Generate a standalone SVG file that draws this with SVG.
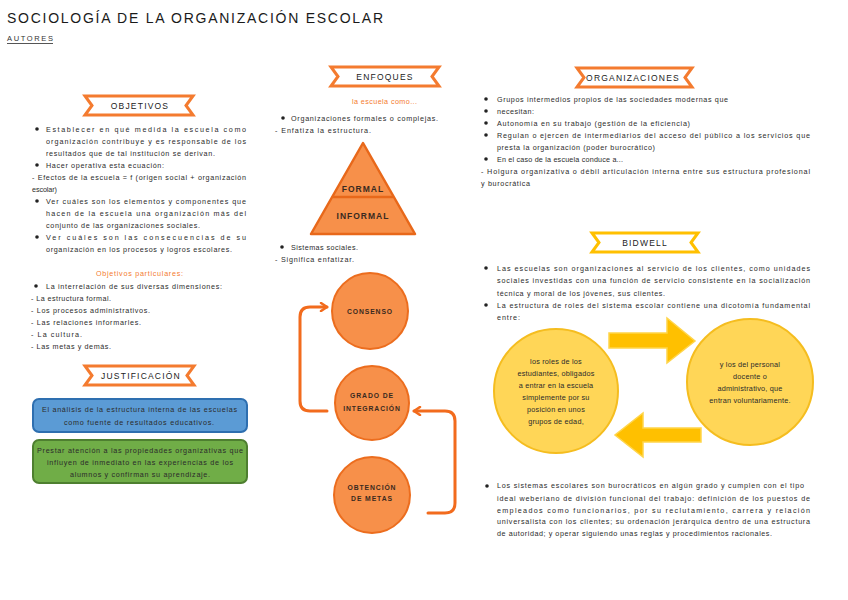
<svg xmlns="http://www.w3.org/2000/svg" width="848" height="600" viewBox="0 0 848 600">
<defs>
<style>
.t{font-family:"Liberation Sans",Arial,sans-serif;font-size:7.2px;fill:#2b2b2b}
.o{fill:#f47b2f}
.ban{fill:#fff;stroke:#f47b2f;stroke-width:3;stroke-linejoin:miter}
.bany{fill:#fff;stroke:#ffc000;stroke-width:3}
.bt{font-family:"Liberation Sans",Arial,sans-serif;font-size:8.5px;fill:#222;text-anchor:middle;letter-spacing:1.2px}
.dot{fill:#222}
.oc{fill:#f7904a;stroke:#ec6d1e;stroke-width:2}
.ct{font-family:"Liberation Sans",Arial,sans-serif;font-size:6.8px;font-weight:bold;fill:#3a2a20;text-anchor:middle;letter-spacing:0.9px}
.yc{fill:#ffd657;stroke:#f5bd1f;stroke-width:2}
.yt{font-family:"Liberation Sans",Arial,sans-serif;font-size:7.3px;fill:#2b2b2b;text-anchor:middle;letter-spacing:0.2px}
.ya{fill:#ffc000;stroke:#ffd54a;stroke-width:1.5}
.con{fill:none;stroke:#f26b1d;stroke-width:3;stroke-linecap:round}
</style>
<marker id="ah" viewBox="0 0 10 10" refX="8" refY="5" markerWidth="10" markerHeight="10" markerUnits="userSpaceOnUse" orient="auto">
<path d="M2,1 L8,5 L2,9" fill="none" stroke="#f26b1d" stroke-width="2.5" stroke-linecap="round" stroke-linejoin="round"/>
</marker>
</defs>
<rect width="848" height="600" fill="#fff"/>

<g id="title">
<text x="7" y="23" font-family="Liberation Sans, Arial, sans-serif" font-size="14" fill="#1a1a1a" textLength="376" lengthAdjust="spacing">SOCIOLOGÍA DE LA ORGANIZACIÓN ESCOLAR</text>
<text x="7" y="41" font-family="Liberation Sans, Arial, sans-serif" font-size="7.5" fill="#333" textLength="46" lengthAdjust="spacing">AUTORES</text>
<line x1="7" y1="43.5" x2="53" y2="43.5" stroke="#555" stroke-width="1"/>
</g>

<g id="objetivos">
<path class="ban" d="M85,96 L193,96 L186,105.5 L193,115 L85,115 L92,105.5 Z"/>
<text class="bt" x="140" y="108.5">OBJETIVOS</text>
<circle class="dot" cx="37" cy="129" r="1.8"/>
<text class="t" x="46" y="131.5" textLength="200" lengthAdjust="spacing">Establecer en qué medida la escuela como</text>
<text class="t" x="46" y="143.5" textLength="200" lengthAdjust="spacing">organización contribuye y es responsable de los</text>
<text class="t" x="46" y="155.5" textLength="169" lengthAdjust="spacing">resultados que de tal institución se derivan.</text>
<circle class="dot" cx="37" cy="165" r="1.8"/>
<text class="t" x="46" y="167.5" textLength="118" lengthAdjust="spacing">Hacer operativa esta ecuación:</text>
<text class="t" x="32" y="179.5" textLength="214" lengthAdjust="spacing">- Efectos de la escuela = f (origen social + organización</text>
<text class="t" x="32" y="191.5" textLength="25" lengthAdjust="spacing">escolar)</text>
<circle class="dot" cx="37" cy="201" r="1.8"/>
<text class="t" x="46" y="203.5" textLength="200" lengthAdjust="spacing">Ver cuáles son los elementos y componentes que</text>
<text class="t" x="46" y="215.5" textLength="200" lengthAdjust="spacing">hacen de la escuela una organización más del</text>
<text class="t" x="46" y="227.5" textLength="154" lengthAdjust="spacing">conjunto de las organizaciones sociales.</text>
<circle class="dot" cx="37" cy="237" r="1.8"/>
<text class="t" x="46" y="239.5" textLength="200" lengthAdjust="spacing">Ver cuáles son las consecuencias de su</text>
<text class="t" x="46" y="251.5" textLength="186" lengthAdjust="spacing">organización en los procesos y logros escolares.</text>
<text class="t o" x="96" y="275.5" textLength="87" lengthAdjust="spacing">Objetivos particulares:</text>
<circle class="dot" cx="36" cy="286" r="1.8"/>
<text class="t" x="46" y="288.5" textLength="176" lengthAdjust="spacing">La interrelación de sus diversas dimensiones:</text>
<text class="t" x="31" y="300.5" textLength="80" lengthAdjust="spacing">- La estructura formal.</text>
<text class="t" x="31" y="312.5" textLength="119" lengthAdjust="spacing">- Los procesos administrativos.</text>
<text class="t" x="31" y="324.5" textLength="110" lengthAdjust="spacing">- Las relaciones informarles.</text>
<text class="t" x="31" y="336.5" textLength="51" lengthAdjust="spacing">- La cultura.</text>
<text class="t" x="31" y="348.5" textLength="80" lengthAdjust="spacing">- Las metas y demás.</text>
</g>

<g id="justificacion">
<path class="ban" d="M85,366 L194,366 L187,375.5 L194,385 L85,385 L92,375.5 Z"/>
<text class="bt" x="141" y="378.5">JUSTIFICACIÓN</text>
</g>
<g id="just-box1">
<rect x="33" y="399" width="214" height="33" rx="6" fill="#5b9bd5" stroke="#2e6fb0" stroke-width="2"/>
<text class="t" x="42" y="411.5" textLength="195" lengthAdjust="spacing">El análisis de la estructura interna de las escuelas</text>
<text class="t" x="64" y="424.5" textLength="150" lengthAdjust="spacing">como fuente de resultados educativos.</text>
</g>
<g id="just-box2">
<rect x="33" y="440" width="214" height="43" rx="6" fill="#70ad47" stroke="#4e7f30" stroke-width="2"/>
<text class="t" x="37" y="452.5" textLength="206" lengthAdjust="spacing">Prestar atención a las propiedades organizativas que</text>
<text class="t" x="47" y="464.5" textLength="186" lengthAdjust="spacing">influyen de inmediato en las experiencias de los</text>
<text class="t" x="70" y="476.5" textLength="140" lengthAdjust="spacing">alumnos y confirman su aprendizaje.</text>
</g>

<g id="enfoques">
<path class="ban" d="M331,67 L439,67 L432,76.5 L439,86 L331,86 L338,76.5 Z"/>
<text class="bt" x="385" y="79.5">ENFOQUES</text>
<text class="t o" x="352" y="103.5" textLength="65" lengthAdjust="spacing">la escuela como...</text>
<circle class="dot" cx="283" cy="118" r="1.8"/>
<text class="t" x="291" y="120.5" textLength="147" lengthAdjust="spacing">Organizaciones formales o complejas.</text>
<text class="t" x="275" y="132.5" textLength="96" lengthAdjust="spacing">- Enfatiza la estructura.</text>
<circle class="dot" cx="282" cy="247" r="1.8"/>
<text class="t" x="291" y="249.5" textLength="67" lengthAdjust="spacing">Sistemas sociales.</text>
<text class="t" x="275" y="262" textLength="79" lengthAdjust="spacing">- Significa enfatizar.</text>
</g>

<g id="piramide">
<path d="M363,143 L415,234 L311,234 Z" fill="#f7904a" stroke="#e8681a" stroke-width="2.5" stroke-linejoin="round"/>
<line x1="333" y1="197" x2="393" y2="197" stroke="#e8681a" stroke-width="2.5"/>
<text x="363" y="192" font-family="Liberation Sans, Arial, sans-serif" font-size="8.5" font-weight="bold" fill="#3a2a20" text-anchor="middle" letter-spacing="1">FORMAL</text>
<text x="363" y="219" font-family="Liberation Sans, Arial, sans-serif" font-size="8.5" font-weight="bold" fill="#3a2a20" text-anchor="middle" letter-spacing="1">INFORMAL</text>
</g>

<g id="consenso">
<circle class="oc" cx="370" cy="311" r="38"/>
<text class="ct" x="370" y="314">CONSENSO</text>
</g>
<g id="grado">
<circle class="oc" cx="372" cy="403" r="37"/>
<text class="ct" x="372" y="398">GRADO DE</text>
<text class="ct" x="372" y="410.5">INTEGRACIÓN</text>
</g>
<g id="obtencion">
<circle class="oc" cx="372" cy="495" r="38"/>
<text class="ct" x="372" y="489.5">OBTENCIÓN</text>
<text class="ct" x="372" y="501">DE METAS</text>
</g>

<g id="organizaciones">
<path class="ban" d="M577,68 L692,68 L685,77.5 L692,87 L577,87 L584,77.5 Z"/>
<text class="bt" x="633" y="80.5">ORGANIZACIONES</text>
<circle class="dot" cx="486" cy="99" r="1.8"/>
<text class="t" x="497" y="101.5" textLength="231" lengthAdjust="spacing">Grupos intermedios propios de las sociedades modernas que</text>
<circle class="dot" cx="486" cy="111" r="1.8"/>
<text class="t" x="497" y="113.5" textLength="37" lengthAdjust="spacing">necesitan:</text>
<circle class="dot" cx="486" cy="123" r="1.8"/>
<text class="t" x="497" y="125.5" textLength="193" lengthAdjust="spacing">Autonomía en su trabajo (gestión de la eficiencia)</text>
<circle class="dot" cx="486" cy="135" r="1.8"/>
<text class="t" x="497" y="137.5" textLength="313" lengthAdjust="spacing">Regulan o ejercen de intermediarios del acceso del público a los servicios que</text>
<text class="t" x="497" y="149.5" textLength="158" lengthAdjust="spacing">presta la organización (poder burocrático)</text>
<circle class="dot" cx="486" cy="159" r="1.8"/>
<text class="t" x="497" y="161.5" textLength="126" lengthAdjust="spacing">En el caso de la escuela conduce a...</text>
<text class="t" x="481" y="173.5" textLength="329" lengthAdjust="spacing">- Holgura organizativa o débil articulación interna entre sus estructura profesional</text>
<text class="t" x="481" y="185.5" textLength="49" lengthAdjust="spacing">y burocrática</text>
</g>

<g id="bidwell">
<path class="bany" d="M592,233 L698,233 L691,242.5 L698,252 L592,252 L599,242.5 Z"/>
<text class="bt" x="645" y="245.5">BIDWELL</text>
<circle class="dot" cx="486" cy="268" r="1.8"/>
<text class="t" x="497" y="270.5" textLength="313" lengthAdjust="spacing">Las escuelas son organizaciones al servicio de los clientes, como unidades</text>
<text class="t" x="497" y="283" textLength="313" lengthAdjust="spacing">sociales investidas con una función de servicio consistente en la socialización</text>
<text class="t" x="497" y="295.5" textLength="168" lengthAdjust="spacing">técnica y moral de los jóvenes, sus clientes.</text>
<circle class="dot" cx="486" cy="305" r="1.8"/>
<text class="t" x="497" y="307.5" textLength="313" lengthAdjust="spacing">La estructura de roles del sistema escolar contiene una dicotomía fundamental</text>
<text class="t" x="497" y="319.5" textLength="23" lengthAdjust="spacing">entre:</text>
</g>

<g id="estudiantes">
<circle class="yc" cx="556" cy="391" r="62"/>
<text class="yt" x="556" y="363.5">los roles de los</text>
<text class="yt" x="556" y="375.5">estudiantes, obligados</text>
<text class="yt" x="556" y="387.5">a entrar en la escuela</text>
<text class="yt" x="556" y="399.5">simplemente por su</text>
<text class="yt" x="556" y="411.5">posición en unos</text>
<text class="yt" x="556" y="423.5">grupos de edad,</text>
</g>
<g id="personal">
<circle class="yc" cx="750" cy="382" r="63"/>
<text class="yt" x="750" y="366.5">y los del personal</text>
<text class="yt" x="750" y="378.5">docente o</text>
<text class="yt" x="750" y="390.5">administrativo, que</text>
<text class="yt" x="750" y="402.5">entran voluntariamente.</text>
</g>

<g id="burocracia">
<circle class="dot" cx="487" cy="486" r="1.8"/>
<text class="t" x="497" y="488" textLength="307" lengthAdjust="spacing">Los sistemas escolares son burocráticos en algún grado y cumplen con el tipo</text>
<text class="t" x="497" y="500.5" textLength="313" lengthAdjust="spacing">ideal weberiano de división funcional del trabajo: definición de los puestos de</text>
<text class="t" x="497" y="512.5" textLength="313" lengthAdjust="spacing">empleados como funcionarios, por su reclutamiento, carrera y relación</text>
<text class="t" x="497" y="524" textLength="313" lengthAdjust="spacing">universalista con los clientes; su ordenación jerárquica dentro de una estructura</text>
<text class="t" x="497" y="535.5" textLength="275" lengthAdjust="spacing">de autoridad; y operar siguiendo unas reglas y procedimientos racionales.</text>
</g>

<g id="connectors">
<path class="con" marker-end="url(#ah)" d="M327,411 L310,411 Q300,411 300,401 L300,317 Q300,307 310,307 L327,307"/>
<path class="con" marker-end="url(#ah)" d="M428,513 L445,513 Q455,513 455,503 L455,421 Q455,411 445,411 L414,411"/>
<polygon class="ya" points="609,333 667,333 667,318 695,341 667,363 667,348 609,348"/>
<polygon class="ya" points="701,428 643,428 643,413 615,435 643,457 643,442 701,442"/>
</g>
</svg>
